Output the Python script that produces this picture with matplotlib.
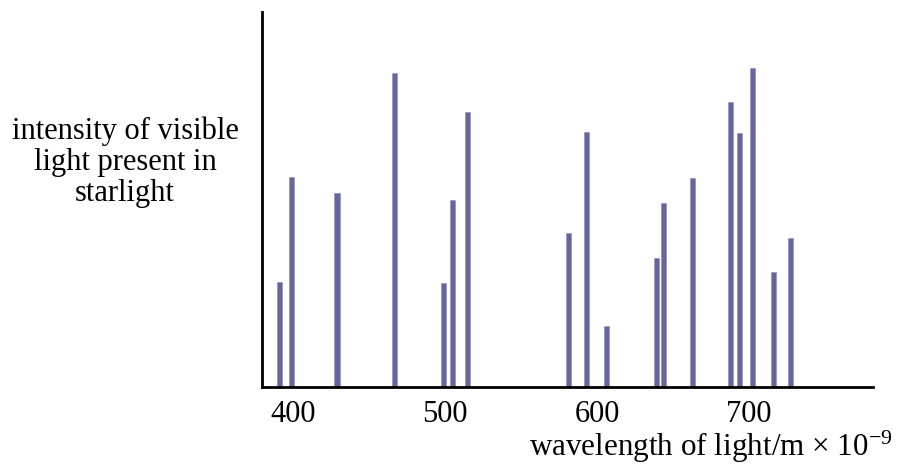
import matplotlib
matplotlib.use("Agg")
import matplotlib.pyplot as plt

# wavelengths of the spectral lines (nm) and their relative intensity
wavelengths = [391, 399, 429, 467, 499, 505, 515, 581, 593, 606,
               639, 644, 663, 688, 694, 702, 716, 727]
intensity = [10.5, 21.0, 19.4, 31.4, 10.4, 18.7, 27.5, 15.4, 25.5, 6.1,
             12.9, 18.4, 20.9, 28.5, 25.4, 31.9, 11.5, 14.9]
tick_values = [400, 500, 600, 700]

plt.rcParams['font.family'] = ['Liberation Serif', 'DejaVu Serif']
plt.rcParams['mathtext.fontset'] = 'custom'
plt.rcParams['mathtext.rm'] = 'Liberation Serif'
plt.rcParams['mathtext.it'] = 'Liberation Serif:italic'

fig = plt.figure(figsize=(8.98, 4.65), dpi=100)
ax = fig.add_axes([0.2918, 0.1677, 0.6804, 0.8065])

ax.bar(wavelengths, intensity, width=3.3, color='#66669c',
       edgecolor='#8a8ab8', linewidth=0.4)

ax.set_xlim(379.7, 781.5)
ax.set_ylim(0, 37.5)
ax.set_xticks(tick_values)
ax.set_xticklabels([str(v) for v in tick_values])
ax.set_yticks([])
ax.tick_params(axis='x', length=0, pad=9, labelsize=22)

for side in ['top', 'right']:
    ax.spines[side].set_visible(False)
for side in ['left', 'bottom']:
    ax.spines[side].set_linewidth(2)
    ax.spines[side].set_color('black')

fig.text(125 / 898, 1 - 162 / 465,
         'intensity of visible\nlight present in\nstarlight',
         ha='center', va='center', fontsize=22, linespacing=1.1)
fig.text(893 / 898, 1 - 447 / 465, r'wavelength of light/m × 10$^{-9}$',
         ha='right', va='center', fontsize=22.4)

fig.savefig('out.png', dpi=100)
